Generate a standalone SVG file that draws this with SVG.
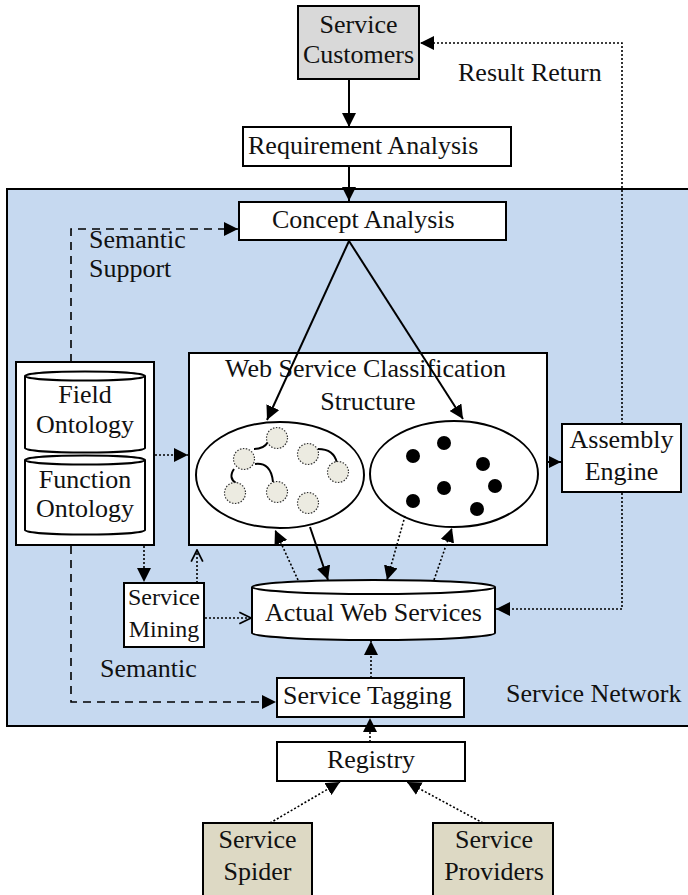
<svg xmlns="http://www.w3.org/2000/svg" width="688" height="895" viewBox="0 0 688 895">
  <style>
    text { font-family: "Liberation Serif", "Times New Roman", serif; font-size: 26px; fill: #111; }
    .mid { text-anchor: middle; }
    .box { fill: #fff; stroke: #000; stroke-width: 2; }
    .solid { fill: none; stroke: #000; stroke-width: 2; }
    .dot { fill: none; stroke: #000; stroke-width: 1.6; stroke-dasharray: 2 2; }
    .dash { fill: none; stroke: #000; stroke-width: 1.6; stroke-dasharray: 8 6; }
    .svc { fill: #ecebe1; stroke: #333; stroke-width: 1.2; stroke-dasharray: 1.5 1.5; }
    .inst { fill: #000; }
  </style>
  <defs>
    <marker id="ah" viewBox="0 0 10 10" refX="10" refY="5" markerWidth="14" markerHeight="14" markerUnits="userSpaceOnUse" orient="auto">
      <path d="M0,0 L10,5 L0,10 z" fill="#000"/>
    </marker>
    <marker id="ahs" viewBox="0 0 10 10" refX="10" refY="5" markerWidth="12" markerHeight="12" markerUnits="userSpaceOnUse" orient="auto">
      <path d="M0,0 L10,5 L0,10 z" fill="#000"/>
    </marker>
    <marker id="open" viewBox="0 0 12 12" refX="11" refY="6" markerWidth="14" markerHeight="14" markerUnits="userSpaceOnUse" orient="auto">
      <path d="M1,1 L11,6 L1,11" fill="none" stroke="#000" stroke-width="1.5"/>
    </marker>
  </defs>

  <!-- service network area -->
  <rect id="service-network" x="7" y="189" width="690" height="537" fill="#c6d9f0" stroke="#000" stroke-width="2"/>
  <text x="506" y="702">Service Network</text>

  <g id="service-customers">
    <rect x="298" y="6" width="121" height="73" fill="#d9d9d9" stroke="#000" stroke-width="2"/>
    <text class="mid" x="358.5" y="33">Service</text>
    <text class="mid" x="358.5" y="63">Customers</text>
  </g>

  <g id="requirement-analysis">
    <rect class="box" x="243" y="127" width="268" height="39"/>
    <text x="248" y="154">Requirement Analysis</text>
  </g>

  <g id="concept-analysis">
    <rect class="box" x="239" y="202" width="267" height="38"/>
    <text x="272" y="228">Concept Analysis</text>
  </g>

  <g id="ontologies">
    <rect class="box" x="16" y="362" width="138" height="183"/>
    <path class="box" d="M25,376 L25,448 A60,4.5 0 0 0 145,448 L145,376"/>
    <ellipse class="box" cx="85" cy="376" rx="60" ry="4.5"/>
    <text class="mid" x="85" y="403">Field</text>
    <text class="mid" x="85" y="433">Ontology</text>
    <path class="box" d="M25,460 L25,530 A60,4.5 0 0 0 145,530 L145,460"/>
    <ellipse class="box" cx="85" cy="460" rx="60" ry="4.5"/>
    <text class="mid" x="85" y="488">Function</text>
    <text class="mid" x="85" y="517">Ontology</text>
  </g>

  <g id="classification-structure">
    <rect class="box" x="189" y="353" width="358" height="192"/>
    <text x="225" y="377">Web Service Classification</text>
    <text class="mid" x="368" y="410">Structure</text>
  </g>

  <g id="semantic-services">
    <ellipse class="box" cx="280" cy="475" rx="84" ry="53"/>
    <path class="solid" d="M254,449 Q264,449 268,442"/>
    <path class="solid" d="M255,464 Q271,462 273,482"/>
    <path class="solid" d="M234,469 Q228,478 236,483"/>
    <path class="solid" d="M318,449 Q334,449 337,463"/>
    <circle class="svc" cx="277" cy="438" r="10.5"/>
    <circle class="svc" cx="244" cy="459" r="10.5"/>
    <circle class="svc" cx="308" cy="454" r="10.5"/>
    <circle class="svc" cx="338" cy="472" r="10.5"/>
    <circle class="svc" cx="235" cy="493" r="10.5"/>
    <circle class="svc" cx="277" cy="492" r="10.5"/>
    <circle class="svc" cx="308" cy="503" r="10.5"/>
  </g>

  <g id="service-instances">
    <ellipse class="box" cx="454" cy="474" rx="84" ry="53"/>
    <circle class="inst" cx="444" cy="443" r="7"/>
    <circle class="inst" cx="413" cy="456" r="7"/>
    <circle class="inst" cx="483" cy="464" r="7"/>
    <circle class="inst" cx="444" cy="488" r="7"/>
    <circle class="inst" cx="495" cy="486" r="7"/>
    <circle class="inst" cx="413" cy="501" r="7"/>
    <circle class="inst" cx="477" cy="509" r="7"/>
  </g>

  <g id="assembly-engine">
    <rect class="box" x="562" y="424" width="119" height="68"/>
    <text class="mid" x="621.5" y="448">Assembly</text>
    <text class="mid" x="621.5" y="480">Engine</text>
  </g>

  <g id="service-mining">
    <rect class="box" x="124" y="583" width="80" height="64"/>
    <text class="mid" x="164" y="605" style="font-size:24px">Service</text>
    <text class="mid" x="164" y="637" style="font-size:24px">Mining</text>
  </g>

  <g id="actual-web-services">
    <path class="box" d="M252,587 L252,633 A121.5,7 0 0 0 495,633 L495,587"/>
    <ellipse class="box" cx="373.5" cy="587" rx="121.5" ry="7"/>
    <text class="mid" x="373.5" y="621">Actual Web Services</text>
  </g>

  <g id="service-tagging">
    <rect class="box" x="277" y="678" width="187" height="39"/>
    <text x="283" y="704">Service Tagging</text>
  </g>

  <g id="registry">
    <rect class="box" x="277" y="742" width="188" height="39"/>
    <text class="mid" x="371" y="768">Registry</text>
  </g>

  <g id="service-spider">
    <rect x="203" y="823" width="109" height="80" fill="#ddd9c4" stroke="#000" stroke-width="2"/>
    <text class="mid" x="257.5" y="848">Service</text>
    <text class="mid" x="257.5" y="880">Spider</text>
  </g>

  <g id="service-providers">
    <rect x="433" y="823" width="120" height="80" fill="#ddd9c4" stroke="#000" stroke-width="2"/>
    <text class="mid" x="494" y="848">Service</text>
    <text class="mid" x="494" y="880">Providers</text>
  </g>

  <!-- connectors, drawn over the nodes -->
  <g id="connectors">
    <line class="solid" x1="349" y1="80" x2="349" y2="127" marker-end="url(#ah)"/>
    <line class="solid" x1="349" y1="167" x2="349" y2="201" marker-end="url(#ah)"/>
    <line class="solid" x1="349" y1="241" x2="267" y2="420" marker-end="url(#ah)"/>
    <line class="solid" x1="349" y1="241" x2="463" y2="419" marker-end="url(#ah)"/>
    <line class="solid" x1="547" y1="462" x2="561" y2="462" marker-end="url(#ahs)"/>
    <!-- semantic support -->
    <polyline class="dash" points="71,362 71,229 238,229" marker-end="url(#ah)"/>
    <text x="89" y="248">Semantic</text>
    <text x="89" y="277">Support</text>
    <!-- semantic tagging -->
    <polyline class="dash" points="71,546 71,702 276,702" marker-end="url(#ah)"/>
    <text x="100" y="677">Semantic</text>
    <!-- ontology to classification -->
    <line class="dot" x1="155" y1="455" x2="188" y2="455" marker-end="url(#ah)"/>
    <line class="dot" x1="144" y1="546" x2="144" y2="582" marker-end="url(#ah)"/>
    <!-- service mining -->
    <line class="dot" x1="197" y1="583" x2="197" y2="550" marker-end="url(#open)"/>
    <line class="dot" x1="205" y1="618" x2="251" y2="618" marker-end="url(#open)"/>
    <!-- classification and actual services -->
    <line class="dot" x1="298" y1="580" x2="275" y2="530" marker-end="url(#ah)"/>
    <line class="solid" x1="310" y1="527" x2="328" y2="580" marker-end="url(#ah)"/>
    <line class="dot" x1="405" y1="516" x2="387" y2="580" marker-end="url(#ah)"/>
    <line class="dot" x1="434" y1="580" x2="452" y2="528" marker-end="url(#ah)"/>
    <!-- result return -->
    <polyline class="dot" points="622,424 622,43 420,43" marker-end="url(#ah)"/>
    <text x="458" y="81">Result Return</text>
    <polyline class="dot" points="622,493 622,609 496,609" marker-end="url(#ah)"/>
    <!-- tagging and registry -->
    <line class="dot" x1="371" y1="678" x2="371" y2="641" marker-end="url(#ah)"/>
    <line class="dot" x1="370" y1="742" x2="370" y2="718" marker-end="url(#ah)"/>
    <line class="dot" x1="270" y1="823" x2="340" y2="782" marker-end="url(#ah)"/>
    <line class="dot" x1="483" y1="823" x2="407" y2="782" marker-end="url(#ah)"/>
  </g>
</svg>
